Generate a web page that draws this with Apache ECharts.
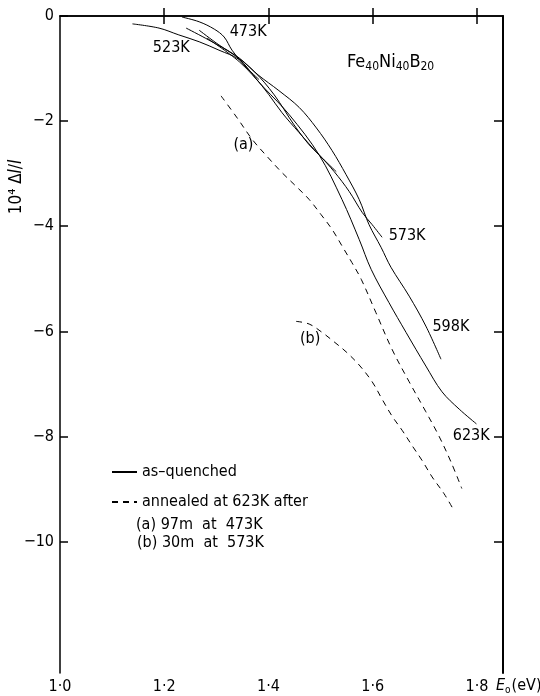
<!DOCTYPE html>
<html>
<head>
<meta charset="utf-8">
<script src="https://cdn.jsdelivr.net/npm/echarts@6/dist/echarts.min.js"></script>
<style>
  html, body { margin: 0; padding: 0; background: #fff; }
  #chart { width: 540px; height: 696px; }
</style>
</head>
<body>
<div id="chart"></div>
<script>
// tick positions
const xTicks = [1.0, 1.2, 1.4, 1.6, 1.8]
const yTicks = [0, -2, -4, -6, -8, -10]

// as-quenched curves, [E0 (eV), 10^4 dl/l]
const k473 = [[1.234,-0.02],[1.267,-0.11],[1.296,-0.25],[1.315,-0.40],[1.330,-0.65],[1.353,-0.93],[1.382,-1.21]]
const k523 = [[1.139,-0.15],[1.190,-0.23],[1.228,-0.36],[1.267,-0.49],[1.305,-0.65],[1.344,-0.83],[1.372,-1.14],
  [1.401,-1.50],[1.426,-1.84],[1.459,-2.22],[1.497,-2.64],[1.530,-2.96]]
const k573 = [[1.242,-0.23],[1.286,-0.46],[1.334,-0.74],[1.373,-1.06],[1.411,-1.50],[1.449,-2.07],[1.478,-2.45],
  [1.497,-2.64],[1.526,-2.96],[1.555,-3.34],[1.580,-3.74],[1.599,-3.97],[1.618,-4.21]]
const k598 = [[1.267,-0.27],[1.305,-0.55],[1.344,-0.80],[1.380,-1.12],[1.420,-1.42],[1.459,-1.74],[1.492,-2.13],
  [1.522,-2.56],[1.549,-3.02],[1.574,-3.49],[1.593,-3.97],[1.616,-4.40],[1.635,-4.78],[1.670,-5.33],[1.702,-5.90],
  [1.731,-6.53]]
const k623 = [[1.282,-0.42],[1.344,-0.87],[1.392,-1.37],[1.440,-1.88],[1.497,-2.64],[1.541,-3.49],[1.574,-4.25],
  [1.597,-4.82],[1.631,-5.45],[1.664,-6.02],[1.702,-6.66],[1.733,-7.15],[1.766,-7.48],[1.799,-7.76]]

// annealed at 623K
const annA = [[1.309,-1.52],[1.340,-1.94],[1.369,-2.35],[1.398,-2.68],[1.426,-2.98],[1.455,-3.26],[1.478,-3.49],
  [1.501,-3.78],[1.522,-4.06],[1.545,-4.44],[1.560,-4.69],[1.578,-5.01],[1.606,-5.64],[1.637,-6.34],[1.670,-6.96],
  [1.702,-7.53],[1.727,-7.99],[1.750,-8.48],[1.771,-8.99]]
const annB = [[1.453,-5.81],[1.478,-5.86],[1.503,-6.02],[1.526,-6.20],[1.549,-6.39],[1.574,-6.64],[1.599,-6.96],
  [1.618,-7.29],[1.637,-7.61],[1.657,-7.89],[1.676,-8.18],[1.695,-8.46],[1.714,-8.77],[1.737,-9.09],[1.756,-9.41]]

// curve labels
const curveLabels = [
  [1.2135, -0.61, '523K'], [1.361, -0.30, '473K'], [1.666, -4.19, '573K'],
  [1.750, -5.92, '598K'], [1.789, -7.99, '623K'], [1.352, -2.45, '(a)'], [1.480, -6.15, '(b)']
]

const font = "'DejaVu Sans Condensed', 'DejaVu Sans', sans-serif"
const ink = '#000'

const fmtX = v => v.toFixed(1).replace('.', '·')
const fmtY = v => (v < 0 ? '−' + Math.abs(v) : String(v))

function solid(name, data) {
  return {
    name: 'as–quenched', id: name, type: 'line', data: data, smooth: 0.35,
    symbol: 'none', lineStyle: { color: ink, width: 1 }, itemStyle: { color: ink }
  }
}
function dashed(name, data) {
  return {
    name: 'annealed at 623K after', id: name, type: 'line', data: data, smooth: 0.35,
    symbol: 'none', lineStyle: { color: ink, width: 1, type: [6, 5] }, itemStyle: { color: ink }
  }
}

const chart = echarts.init(document.getElementById('chart'))

const baseX = {
  type: 'value', min: 1.0, max: 1.85,
  axisLine: { show: true, lineStyle: { color: ink, width: 1.5 } },
  splitLine: { show: false }
}
const baseY = {
  type: 'value', min: -12.5, max: 0,
  axisLine: { show: true, lineStyle: { color: ink, width: 1.5 } },
  splitLine: { show: false }
}

const options = {
  animation: false,
  grid: { left: 60, top: 16, right: 37, bottom: 23, containLabel: false },
  xAxis: [
    Object.assign({}, baseX, {
      position: 'bottom',
      axisTick: { inside: true, length: 8, customValues: xTicks.slice(1), lineStyle: { color: ink, width: 1.5 } },
      axisLabel: { customValues: xTicks, formatter: fmtX, color: ink, fontSize: 16, fontFamily: font, margin: 6 }
    }),
    Object.assign({}, baseX, {
      position: 'top',
      axisTick: { inside: true, length: 8, customValues: xTicks.slice(1), lineStyle: { color: ink, width: 1.5 } },
      axisLabel: { show: false }
    })
  ],
  yAxis: [
    Object.assign({}, baseY, {
      position: 'left',
      axisTick: { inside: true, length: 8, customValues: yTicks, lineStyle: { color: ink, width: 1.5 } },
      axisLabel: { customValues: yTicks, formatter: fmtY, color: ink, fontSize: 16, fontFamily: font, margin: 6 }
    }),
    Object.assign({}, baseY, {
      position: 'right',
      axisLine: { show: true, lineStyle: { color: ink, width: 2 } },
      axisTick: { inside: true, length: 9, customValues: yTicks.slice(1), lineStyle: { color: ink, width: 1.5 } },
      axisLabel: { show: false }
    })
  ],
  legend: {
    orient: 'vertical', left: 106, top: 459, itemWidth: 25, itemHeight: 12, itemGap: 14,
    selectedMode: false,
    itemStyle: { opacity: 0 },
    textStyle: { color: ink, fontSize: 16, fontFamily: font },
    data: ['as–quenched', 'annealed at 623K after']
  },
  graphic: [
    {
      type: 'text', left: 347, top: 53,
      style: {
        text: 'Fe{s|40}Ni{s|40}B{s|20}', fill: ink, font: '18px ' + font,
        rich: { s: { fontSize: 12, fontFamily: font, fill: ink, padding: [10, 0, 0, 0] } }
      }
    },
    {
      type: 'text', x: 17, y: 187, rotation: Math.PI / 2,
      style: {
        text: '10⁴ Δ{i|l}/{i|l}', fill: ink, font: '17px ' + font, align: 'center', verticalAlign: 'middle',
        rich: { i: { fontStyle: 'italic', fontSize: 17, fontFamily: font, fill: ink } }
      }
    },
    {
      type: 'text', left: 496, top: 678,
      style: {
        text: '{i|E}{s|o}(eV)', fill: ink, font: '16px ' + font,
        rich: {
          i: { fontStyle: 'italic', fontSize: 16, fontFamily: font, fill: ink },
          s: { fontSize: 10, fontFamily: font, fill: ink, padding: [8, 1, 0, 0] }
        }
      }
    },
    { type: 'text', left: 136, top: 517, style: { text: '(a) 97m  at  473K', fill: ink, font: '16px ' + font } },
    { type: 'text', left: 137, top: 535, style: { text: '(b) 30m  at  573K', fill: ink, font: '16px ' + font } }
  ],
  series: [
    solid('473K', k473), solid('523K', k523), solid('573K', k573), solid('598K', k598), solid('623K', k623),
    dashed('a', annA), dashed('b', annB),
    {
      type: 'scatter', symbolSize: 1, silent: true,
      itemStyle: { color: 'rgba(0,0,0,0)', opacity: 1 },
      data: curveLabels.map(d => ({ value: [d[0], d[1]], name: d[2] })),
      label: { show: true, position: 'inside', formatter: p => p.name, color: ink, opacity: 1, fontSize: 16, fontFamily: font }
    }
  ]
}

chart.setOption(options)
</script>
</body>
</html>
